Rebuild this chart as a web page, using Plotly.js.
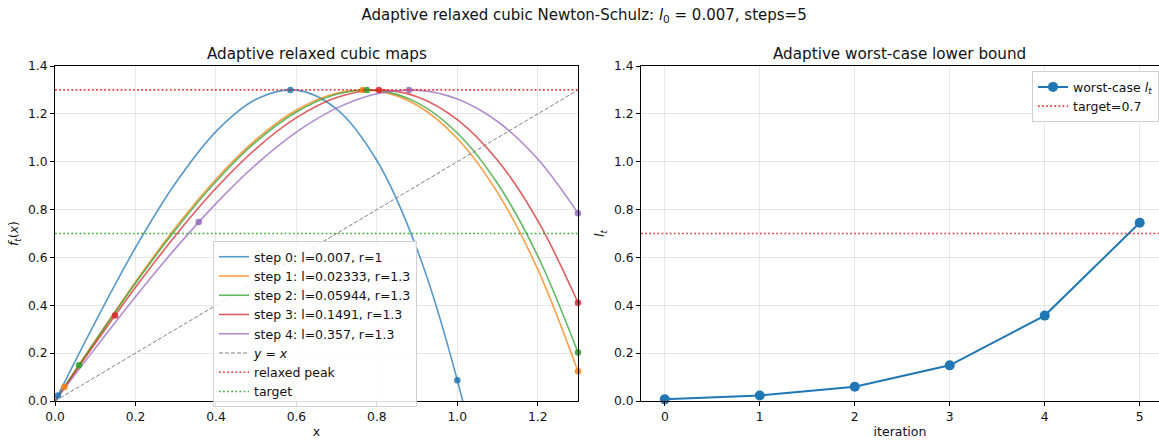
<!DOCTYPE html>
<html>
<head>
<meta charset="utf-8">
<script src="https://cdn.plot.ly/plotly-3.0.1.min.js"></script>
<style>html,body{margin:0;padding:0;background:#fff;}#chart{width:1159px;height:440px;}</style>
</head>
<body>
<div id="chart"></div>
<script>
// ---- data ----
const xGrid = [0, 0.1, 0.2, 0.3, 0.4, 0.5, 0.6, 0.7, 0.8, 0.9, 1.0, 1.1, 1.2, 1.3];
const step0Y = [0, 0.330, 0.641, 0.912, 1.126, 1.261, 1.299, 1.220, 1.005, 0.634, 0.087, -0.654, -1.609, -2.798];
const step1Y = [0, 0.253, 0.498, 0.726, 0.927, 1.093, 1.216, 1.286, 1.296, 1.236, 1.097, 0.871, 0.550, 0.124];
const step2Y = [0, 0.250, 0.492, 0.717, 0.917, 1.084, 1.208, 1.282, 1.298, 1.247, 1.120, 0.909, 0.606, 0.203];
const step3Y = [0, 0.241, 0.475, 0.693, 0.889, 1.055, 1.184, 1.268, 1.300, 1.272, 1.176, 1.006, 0.754, 0.411];
const step4Y = [0, 0.221, 0.436, 0.639, 0.825, 0.989, 1.124, 1.224, 1.284, 1.299, 1.262, 1.168, 1.011, 0.785];

const stepNames = ["step 0: l=0.007, r=1", "step 1: l=0.02333, r=1.3", "step 2: l=0.05944, r=1.3",
                   "step 3: l=0.1491, r=1.3", "step 4: l=0.357, r=1.3"];
// marker points for each step: lower bound, peak, upper end
const markX = [[0.007, 0.585, 1.0], [0.02333, 0.765, 1.3], [0.05944, 0.775, 1.3], [0.1491, 0.805, 1.3], [0.357, 0.880, 1.3]];
const markY = [[0.023, 1.3, 0.087], [0.059, 1.3, 0.124], [0.149, 1.3, 0.203], [0.357, 1.3, 0.411], [0.748, 1.3, 0.785]];

const diagX = [0, 1.3];
const diagY = [0, 1.3];
const relaxedPeak = 1.3;
const targetVal = 0.7;

const iterations = [0, 1, 2, 3, 4, 5];
const worstCase = [0.007, 0.02333, 0.05944, 0.1491, 0.357, 0.745];

// ---- styling ----
const colors = ["31,119,180", "255,127,14", "44,160,44", "214,39,40", "148,103,189"];
const stepYs = [step0Y, step1Y, step2Y, step3Y, step4Y];
const FONT = "DejaVu Sans, sans-serif";

const traces = [];
stepYs.forEach((ys, i) => {
  traces.push({
    x: xGrid, y: ys, type: "scatter", mode: "lines", name: stepNames[i],
    line: {color: "rgba(" + colors[i] + ",0.75)", width: 1.6, shape: "spline", smoothing: 1},
    xaxis: "x", yaxis: "y"
  });
});
stepYs.forEach((ys, i) => {
  traces.push({
    x: markX[i], y: markY[i], type: "scatter", mode: "markers", showlegend: false,
    marker: {color: "rgba(" + colors[i] + ",0.85)", size: 6.5},
    xaxis: "x", yaxis: "y", cliponaxis: false
  });
});
traces.push({x: diagX, y: diagY, type: "scatter", mode: "lines", name: "<i>y</i> = <i>x</i>",
  line: {color: "rgba(128,128,128,1)", width: 1, dash: "4px,2px"}, xaxis: "x", yaxis: "y"});
traces.push({x: [0, 1.3], y: [relaxedPeak, relaxedPeak], type: "scatter", mode: "lines", name: "relaxed peak",
  line: {color: "rgba(240,30,30,0.9)", width: 1.7, dash: "1.7px,2.4px"}, xaxis: "x", yaxis: "y"});
traces.push({x: [0, 1.3], y: [targetVal, targetVal], type: "scatter", mode: "lines", name: "target",
  line: {color: "rgba(44,170,44,0.95)", width: 1.7, dash: "1.7px,2.4px"}, xaxis: "x", yaxis: "y"});

// right panel
traces.push({x: iterations, y: worstCase, type: "scatter", mode: "lines+markers",
  name: "worst-case <i>l</i><sub><i>t</i></sub>", legend: "legend2",
  line: {color: "#1f77b4", width: 2}, marker: {color: "#1f77b4", size: 10},
  xaxis: "x2", yaxis: "y2", cliponaxis: false});
traces.push({x: [-0.25, 5.25], y: [targetVal, targetVal], type: "scatter", mode: "lines",
  name: "target=0.7", legend: "legend2",
  line: {color: "rgba(240,30,30,0.9)", width: 1.7, dash: "1.7px,2.4px"}, xaxis: "x2", yaxis: "y2"});

const axisCommon = {
  showline: true, linecolor: "#000", linewidth: 1, ticks: "outside", ticklen: 4, tickwidth: 1,
  tickcolor: "#000", showgrid: true, gridcolor: "rgba(0,0,0,0.09)", gridwidth: 1, zeroline: false,
  tickfont: {family: FONT, size: 12.3, color: "#111"}
};

const layout = {
  width: 1159, height: 440,
  margin: {l: 0, r: 0, t: 0, b: 0},
  paper_bgcolor: "#fff", plot_bgcolor: "#fff",
  font: {family: FONT, color: "#111"},
  title: {text: "Adaptive relaxed cubic Newton-Schulz: <i>l</i><sub>0</sub> = 0.007, steps=5",
          x: 0.504, xanchor: "center", y: 0.966, yanchor: "middle", font: {family: FONT, size: 15, color: "#111"}},
  xaxis: Object.assign({}, axisCommon, {domain: [0.0475, 0.4987], range: [0, 1.3], tickvals: [0, 0.2, 0.4, 0.6, 0.8, 1.0, 1.2],
    tickformat: ".1f", mirror: true, anchor: "y",
    title: {text: "x", font: {family: FONT, size: 12.5, color: "#111"}, standoff: 4}}),
  yaxis: Object.assign({}, axisCommon, {domain: [0.0886, 0.85], range: [0, 1.4], dtick: 0.2, tickformat: ".1f", mirror: true, anchor: "x",
    title: {text: "<i>f</i><sub><i>t</i></sub>(<i>x</i>)", font: {family: FONT, size: 12.5, color: "#111"}, standoff: 6}}),
  xaxis2: Object.assign({}, axisCommon, {domain: [0.5531, 1], range: [-0.25, 5.203], tickvals: iterations, mirror: true, anchor: "y2",
    title: {text: "iteration", font: {family: FONT, size: 12.5, color: "#111"}, standoff: 4}}),
  yaxis2: Object.assign({}, axisCommon, {domain: [0.0886, 0.85], range: [0, 1.4], dtick: 0.2, tickformat: ".1f", mirror: false, anchor: "x2",
    title: {text: "<i>l</i><sub><i>t</i></sub>", font: {family: FONT, size: 12.5, color: "#111"}, standoff: 6}}),
  legend: {x: 0.1838, y: 0.452, xanchor: "left", yanchor: "top", bgcolor: "rgba(255,255,255,0.85)",
    bordercolor: "#d0d0d0", borderwidth: 1, font: {family: FONT, size: 12.5, color: "#111"}, itemwidth: 30, tracegroupgap: 0},
  legend2: {x: 0.8905, y: 0.838, xanchor: "left", yanchor: "top", bgcolor: "rgba(255,255,255,0.85)",
    bordercolor: "#d0d0d0", borderwidth: 1, font: {family: FONT, size: 12.5, color: "#111"}, itemwidth: 30},
  annotations: [
    {text: "Adaptive relaxed cubic maps", xref: "paper", yref: "paper", x: 0.2731, y: 0.878, xanchor: "center", yanchor: "middle",
     showarrow: false, font: {family: FONT, size: 15.2, color: "#111"}},
    {text: "Adaptive worst-case lower bound", xref: "paper", yref: "paper", x: 0.7765, y: 0.878, xanchor: "center", yanchor: "middle",
     showarrow: false, font: {family: FONT, size: 15.2, color: "#111"}}
  ],
  showlegend: true
};

Plotly.newPlot("chart", traces, layout, {displayModeBar: false, staticPlot: true});
</script>
</body>
</html>
